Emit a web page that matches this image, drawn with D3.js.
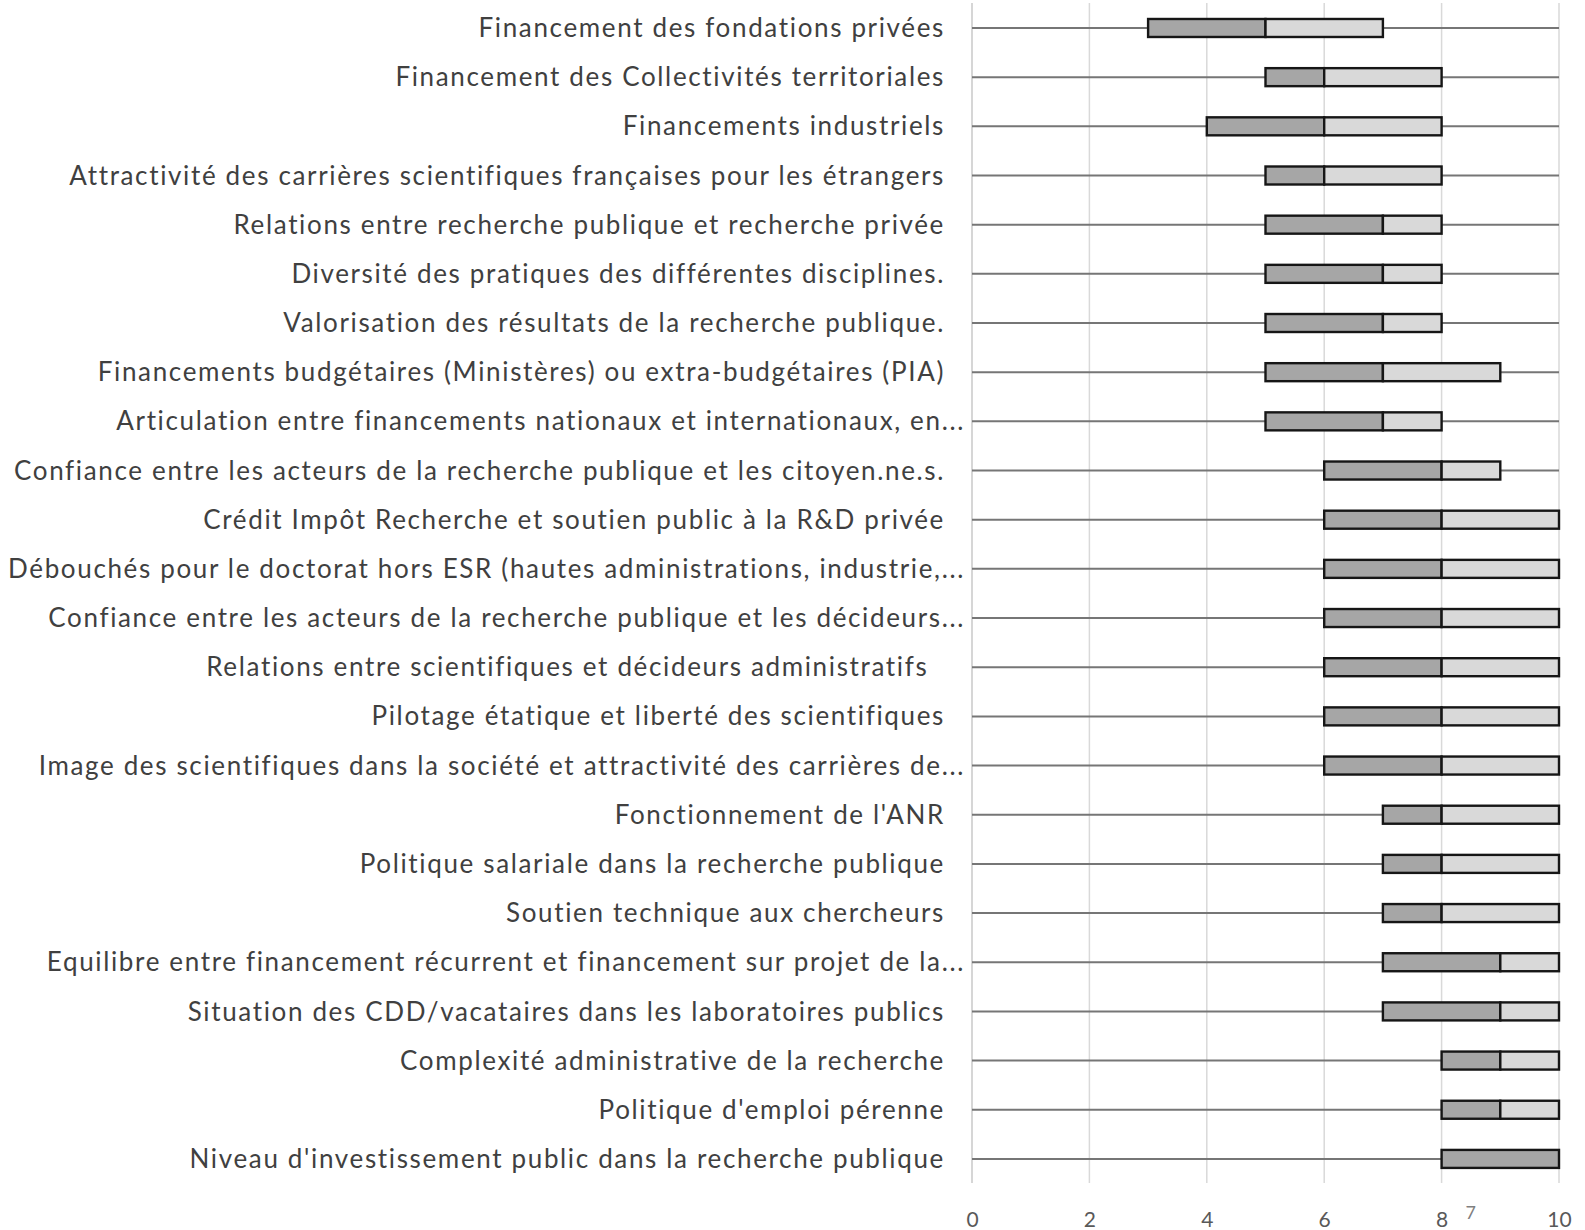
<!DOCTYPE html>
<html><head><meta charset="utf-8">
<script src="https://cdn.jsdelivr.net/npm/d3@7"></script>
<style>
html,body{margin:0;padding:0;background:#fff;}
svg text{font-family:Lato,"Open Sans",sans-serif;white-space:pre;}
</style></head>
<body><svg id="c" width="1585" height="1230"></svg>
<script>
const categories = [
 "Financement des fondations privées",
 "Financement des Collectivités territoriales",
 "Financements industriels",
 "Attractivité des carrières scientifiques françaises pour les étrangers",
 "Relations entre recherche publique et recherche privée",
 "Diversité des pratiques des différentes disciplines.",
 "Valorisation des résultats de la recherche publique.",
 "Financements budgétaires (Ministères) ou extra-budgétaires (PIA)",
 "Articulation entre financements nationaux et internationaux, en...",
 "Confiance entre les acteurs de la recherche publique et les citoyen.ne.s.",
 "Crédit Impôt Recherche et soutien public à la R&D privée",
 "Débouchés pour le doctorat hors ESR (hautes administrations, industrie,...",
 "Confiance entre les acteurs de la recherche publique et les décideurs...",
 "Relations entre scientifiques et décideurs administratifs  ",
 "Pilotage étatique et liberté des scientifiques",
 "Image des scientifiques dans la société et attractivité des carrières de...",
 "Fonctionnement de l'ANR",
 "Politique salariale dans la recherche publique",
 "Soutien technique aux chercheurs",
 "Equilibre entre financement récurrent et financement sur projet de la...",
 "Situation des CDD/vacataires dans les laboratoires publics",
 "Complexité administrative de la recherche",
 "Politique d'emploi pérenne",
 "Niveau d'investissement public dans la recherche publique"
];
const minVals    = [0,0,0,0,0,0,0,0,0,0,0,0,0,0,0,0,0,0,0,0,0,0,0,0];
const q1Vals     = [3,5,4,5,5,5,5,5,5,6,6,6,6,6,6,6,7,7,7,7,7,8,8,8];
const medianVals = [5,6,6,6,7,7,7,7,7,8,8,8,8,8,8,8,8,8,8,9,9,9,9,10];
const q3Vals     = [7,8,8,8,8,8,8,9,8,9,10,10,10,10,10,10,10,10,10,10,10,10,10,10];
const maxVals    = [10,10,10,10,10,10,10,10,10,10,10,10,10,10,10,10,10,10,10,10,10,10,10,10];
const xTicks = [0,2,4,6,8,10];
const pageNumber = "7";

const data = categories.map((c,i)=>({c, min:minVals[i], q1:q1Vals[i], med:medianVals[i], q3:q3Vals[i], max:maxVals[i]}));

const svg = d3.select("#c");
const x = d3.scaleLinear().domain([0,10]).range([972,1559]);
const y = d3.scaleBand().domain(categories).range([3.4,1183.5]);
const bh = 18;

// gridlines
svg.append("g").selectAll("line").data(xTicks).join("line")
  .attr("x1",d=>x(d)).attr("x2",d=>x(d)).attr("y1",3).attr("y2",1183)
  .attr("stroke",d=>d===0?"#c8c8c8":"#d9d9d9").attr("stroke-width",1.5);

// axis labels
const ax = svg.append("g").attr("transform","translate(0,1227)")
  .call(d3.axisBottom(x).tickValues(xTicks).tickSize(0).tickPadding(0));
ax.select(".domain").remove();
ax.selectAll("text").attr("font-size",21).attr("fill","#595959").attr("dy","0")
  .style("font-family","Lato,sans-serif");
svg.append("text").attr("x",x(8)+24).attr("y",1219).attr("font-size",18).attr("fill","#7f7f7f").text(pageNumber);

const row = svg.append("g").selectAll("g").data(data).join("g")
  .attr("transform",d=>`translate(0,${y(d.c)+y.bandwidth()/2})`);

row.append("line").attr("x1",d=>x(d.min)).attr("x2",d=>x(d.max))
  .attr("stroke","#767676").attr("stroke-width",2);
row.append("rect").attr("x",d=>x(d.q1)).attr("width",d=>x(d.med)-x(d.q1))
  .attr("y",-bh/2).attr("height",bh).attr("fill","#a6a6a6").attr("stroke","#161616").attr("stroke-width",2.4);
row.append("rect").attr("x",d=>x(d.med)).attr("width",d=>x(d.q3)-x(d.med))
  .attr("y",-bh/2).attr("height",bh).attr("fill","#d9d9d9").attr("stroke","#161616").attr("stroke-width",2.4)
  .attr("display",d=>d.q3>d.med?null:"none");

row.append("text").attr("x",d=>d.c.endsWith("...")?965:945).attr("y",0).attr("dy","0.35em")
  .attr("text-anchor","end").attr("font-size",26).attr("letter-spacing","1.65px")
  .attr("fill","#404040").text(d=>d.c);
</script></body></html>
